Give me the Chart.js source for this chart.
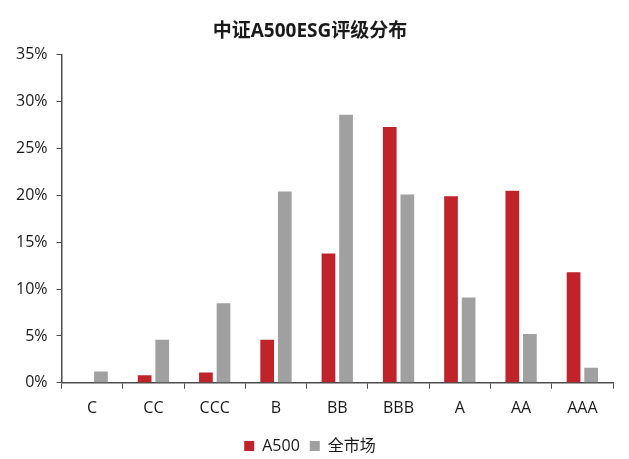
<!DOCTYPE html>
<html lang="zh">
<head>
  <meta charset="UTF-8" />
  <title>中证A500ESG评级分布</title>
  <script src="https://cdn.jsdelivr.net/npm/chart.js"></script>
  <style>
    html, body { margin: 0; padding: 0; background: #fff; }
    .wrap { width: 629px; height: 459px; position: relative; }
  </style>
</head>
<body>
  <div class="wrap"><canvas id="esgChart"></canvas></div>

  <script>
    const ratings = ["C", "CC", "CCC", "B", "BB", "BBB", "A", "AA", "AAA"];
    const a500 = [0, 0.8, 1.1, 4.6, 13.8, 27.3, 19.9, 20.5, 11.8];
    const wholeMarket = [1.2, 4.6, 8.5, 20.4, 28.6, 20.1, 9.1, 5.2, 1.6];
    const yTicks = [0, 5, 10, 15, 20, 25, 30, 35];

    const fontFamily = "'Open Sans', 'Noto Sans CJK SC', sans-serif";
    const axisColor = "#4d4d4d";

    new Chart(document.getElementById("esgChart"), {
      type: "bar",
      data: {
        labels: ratings,
        datasets: [
          { label: "A500", data: a500, backgroundColor: "#c0242a", categoryPercentage: 0.574, barPercentage: 0.78 },
          { label: "全市场", data: wholeMarket, backgroundColor: "#a0a0a0", categoryPercentage: 0.574, barPercentage: 0.78 }
        ]
      },
      options: {
        responsive: true,
        maintainAspectRatio: false,
        animation: false,
        // legend wants wider item gaps than its box height allows, hence the negative bottom
        layout: { padding: { left: 7, right: 16, top: 4, bottom: -5 } },
        plugins: {
          title: {
            display: true,
            text: "中证A500ESG评级分布",
            color: "#1a1a1a",
            font: { family: fontFamily, size: 19, weight: "bold" },
            padding: { top: 16, bottom: 12 }
          },
          legend: {
            position: "bottom",
            labels: {
              color: "#1a1a1a",
              boxWidth: 10,
              boxHeight: 10,
              padding: 10,
              font: { family: fontFamily, size: 16 }
            }
          },
          tooltip: { enabled: false }
        },
        scales: {
          x: {
            grid: { display: true, drawOnChartArea: false, offset: true, color: axisColor, tickLength: 6 },
            border: { color: axisColor, width: 1.5 },
            ticks: { color: "#1a1a1a", padding: 10, font: { family: fontFamily, size: 16 } }
          },
          y: {
            min: 0,
            max: 35,
            afterBuildTicks: axis => { axis.ticks = yTicks.map(v => ({ value: v })); },
            grid: { display: true, drawOnChartArea: false, color: axisColor, tickLength: 5 },
            border: { color: axisColor, width: 1.5 },
            ticks: {
              color: "#1a1a1a",
              padding: 9,
              font: { family: fontFamily, size: 16 },
              callback: v => v + "%"
            }
          }
        }
      }
    });
  </script>
</body>
</html>
